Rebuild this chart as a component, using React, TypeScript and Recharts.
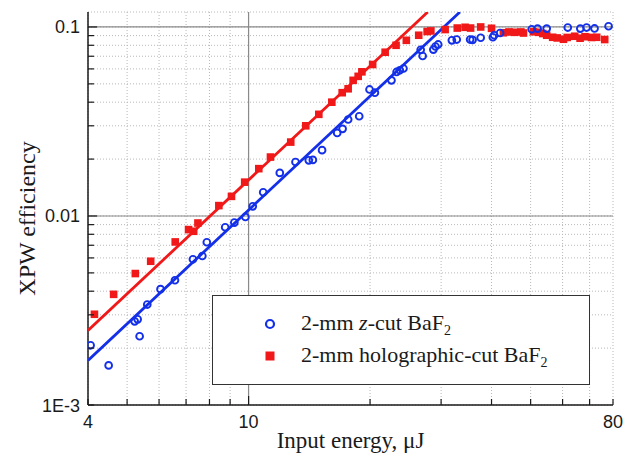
import {
  CartesianGrid,
  Legend,
  ReferenceLine,
  Scatter,
  ScatterChart,
  XAxis,
  YAxis,
} from "recharts";

// XPW efficiency vs input energy, log-log.
const zCutEnergy = [
  4.06, 4.5, 5.22, 5.31, 5.37, 5.61, 6.05, 6.57, 7.28, 7.68, 7.88, 8.75, 9.22,
  9.82, 10.24, 10.87, 11.95, 13.07, 14.1, 14.43, 15.21, 16.58, 17.1, 17.65,
  18.8, 19.94, 20.56, 22.6, 23.27, 23.7, 24.2, 26.7, 27.0, 28.7, 29.05, 29.5,
  31.9, 32.8, 35.4, 35.9, 37.6, 40.3, 40.6, 42.0, 50.3, 52.0, 54.8, 61.8, 66.4,
  68.8, 72.0, 78.0,
];
const zCutEff = [
  0.00207, 0.00162, 0.00277, 0.00284, 0.00231, 0.0034, 0.0041, 0.00457, 0.0059,
  0.00614, 0.00726, 0.00872, 0.00923, 0.00988, 0.01125, 0.01335, 0.0169,
  0.0193, 0.0197, 0.0198, 0.0223, 0.0275, 0.0289, 0.0324, 0.0337, 0.0467,
  0.0449, 0.0522, 0.0578, 0.059, 0.0603, 0.0757, 0.0702, 0.0759, 0.0788,
  0.0808, 0.085, 0.0858, 0.0858, 0.0855, 0.0877, 0.0882, 0.0904, 0.0929,
  0.0972, 0.098, 0.098, 0.0993, 0.098, 0.0993, 0.0982, 0.1009,
];

const holoEnergy = [
  4.15, 4.63, 5.24, 5.72, 6.58, 7.1, 7.31, 7.49, 8.44, 9.07, 9.78, 10.6, 11.33,
  12.72, 13.86, 14.93, 16.08, 17.06, 17.65, 18.16, 18.69, 19.09, 20.3, 21.8,
  23.2, 24.6, 26.4, 27.7, 28.3, 30.7, 32.9, 34.4, 35.5, 37.6, 40.0, 42.8, 44.2,
  45.6, 47.3, 48.0, 50.8, 52.3, 53.6, 54.8, 56.7, 58.2, 60.3, 61.6, 64.3, 66.3,
  68.2, 70.8, 72.9, 76.3,
];
const holoEff = [
  0.00302, 0.00385, 0.00496, 0.00576, 0.00729, 0.00847, 0.0083, 0.00918,
  0.01135, 0.0127, 0.0151, 0.0178, 0.0205, 0.0246, 0.03, 0.0345, 0.04, 0.0449,
  0.0471, 0.0522, 0.0548, 0.0579, 0.0633, 0.0735, 0.08, 0.085, 0.0904, 0.0946,
  0.0953, 0.0969, 0.0987, 0.0996, 0.0987, 0.1, 0.0984, 0.0932, 0.0941, 0.0937,
  0.0941, 0.0929, 0.0943, 0.0937, 0.0923, 0.0904, 0.0882, 0.0875, 0.0861,
  0.088, 0.0893, 0.0872, 0.0888, 0.088, 0.0882, 0.0858,
];

// quadratic fits (straight on log-log), endpoints read where they leave the frame
const zFitEnergy = [4, 33.4];
const zFitEff = [0.00172, 0.12];
const holoFitEnergy = [4, 27.8];
const holoFitEff = [0.00248, 0.12];

const xTicks = [4, 5, 6, 7, 8, 9, 10, 20, 30, 40, 50, 60, 70, 80];
const yTicks = [
  0.001, 0.002, 0.003, 0.004, 0.005, 0.006, 0.007, 0.008, 0.009, 0.01, 0.02,
  0.03, 0.04, 0.05, 0.06, 0.07, 0.08, 0.09, 0.1,
];
const xLabelTicks = [4, 10, 80];
const xLabelText = ["4", "10", "80"];
const yLabelTicks = [0.001, 0.01, 0.1];
const yLabelText = ["1E-3", "0.01", "0.1"];
const xMajor = [10];
const yMajor = [0.01, 0.1];

const BLUE = "#1330e8";
const RED = "#f01818";
const INK = "#1a1a1a";
const SANS = "'Liberation Sans', Arial, sans-serif";
const SERIF = "'Liberation Serif', 'Times New Roman', serif";

const toPoints = (xs: number[], ys: number[]) =>
  xs.map((x, i) => ({ x, y: ys[i] }));

type Side = "bottom" | "top" | "left" | "right";

// ticks point into the frame on all four sides, labels only on bottom/left
function makeTick(side: Side) {
  return (props: any) => {
    const { x, y, payload } = props;
    const v = payload.value;
    const horiz = side === "bottom" || side === "top";
    const len = (horiz ? xMajor : yMajor).includes(v) ? 9 : 6;
    let x2 = x;
    let y2 = y;
    if (side === "bottom") y2 = y - len;
    if (side === "top") y2 = y + len;
    if (side === "left") x2 = x + len;
    if (side === "right") x2 = x - len;

    let label = null;
    if (side === "bottom") {
      const i = xLabelTicks.indexOf(v);
      if (i >= 0)
        label = (
          <text x={x} y={y + 23} textAnchor="middle" fontFamily={SANS} fontSize={18} fill={INK}>
            {xLabelText[i]}
          </text>
        );
    }
    if (side === "left") {
      const i = yLabelTicks.indexOf(v);
      if (i >= 0)
        label = (
          <text x={x - 8} y={y + 6.5} textAnchor="end" fontFamily={SANS} fontSize={18} fill={INK}>
            {yLabelText[i]}
          </text>
        );
    }
    return (
      <g>
        <line x1={x} y1={y} x2={x2} y2={y2} stroke={INK} strokeWidth={1.2} />
        {label}
      </g>
    );
  };
}

const Circle = (p: any) => (
  <circle cx={p.cx} cy={p.cy} r={3.4} fill="none" stroke={BLUE} strokeWidth={1.9} />
);
const Square = (p: any) => (
  <rect x={p.cx - 3.8} y={p.cy - 3.8} width={7.6} height={7.6} fill={RED} />
);
const NoDot = () => <g />;

function LegendBox() {
  const row = (top: number, symbol: any, text: string) => (
    <div style={{ position: "absolute", left: 0, top, height: 32, width: "100%" }}>
      <svg width={20} height={20} style={{ position: "absolute", left: 47, top: 6 }}>
        {symbol}
      </svg>
      <div style={{ position: "absolute", left: 88, top: 2, whiteSpace: "nowrap", lineHeight: "26px" }}>
        {text}
      </div>
    </div>
  );
  return (
    <div
      style={{
        position: "relative",
        width: 378,
        height: 90,
        boxSizing: "border-box",
        border: "1.5px solid #333",
        background: "#fff",
        fontFamily: SERIF,
        fontSize: 22,
        color: INK,
      }}
    >
      <div style={{ position: "absolute", left: 0, top: 12, width: "100%", height: 32 }}>
        <svg width={20} height={20} style={{ position: "absolute", left: 47, top: 6 }}>
          <circle cx={10} cy={10} r={4} fill="none" stroke={BLUE} strokeWidth={2.2} />
        </svg>
        <div style={{ position: "absolute", left: 88, top: 2, whiteSpace: "nowrap", lineHeight: "26px" }}>
          2-mm <i>z</i>-cut BaF<sub style={{ fontSize: 14 }}>2</sub>
        </div>
      </div>
      {row(
        44,
        <rect x={5.5} y={5.5} width={9} height={9} fill={RED} />,
        ""
      )}
      <div style={{ position: "absolute", left: 88, top: 46, whiteSpace: "nowrap", lineHeight: "26px" }}>
        2-mm holographic-cut BaF<sub style={{ fontSize: 14 }}>2</sub>
      </div>
    </div>
  );
}

export default function App() {
  return (
    <div style={{ position: "absolute", left: 0, top: 0, background: "#fff" }}>
      <ScatterChart width={636} height={455} margin={{ top: 12, right: 23, bottom: 0, left: 0 }}>
        <CartesianGrid stroke="#b8b8b8" strokeDasharray="1 2" />
        <XAxis
          type="number"
          dataKey="x"
          scale="log"
          domain={[4, 80]}
          allowDataOverflow
          ticks={xTicks}
          interval={0}
          height={50}
          tickSize={0}
          tickMargin={0}
          tickLine={false}
          axisLine={{ stroke: INK, strokeWidth: 1.5 }}
          tick={makeTick("bottom")}
          label={{
            content: ({ viewBox }: any) => (
              <text
                x={viewBox.x + viewBox.width / 2}
                y={viewBox.y + 43}
                textAnchor="middle"
                fontFamily={SERIF}
                fontSize={23}
                fill={INK}
              >
                Input energy, μJ
              </text>
            ),
          }}
        />
        <XAxis
          xAxisId="top"
          orientation="top"
          type="number"
          dataKey="x"
          scale="log"
          domain={[4, 80]}
          allowDataOverflow
          ticks={xTicks}
          interval={0}
          height={0}
          tickSize={0}
          tickMargin={0}
          tickLine={false}
          axisLine={{ stroke: INK, strokeWidth: 1.5 }}
          tick={makeTick("top")}
        />
        <YAxis
          type="number"
          dataKey="y"
          scale="log"
          domain={[0.001, 0.12]}
          allowDataOverflow
          ticks={yTicks}
          interval={0}
          width={88}
          tickSize={0}
          tickMargin={0}
          tickLine={false}
          axisLine={{ stroke: INK, strokeWidth: 1.5 }}
          tick={makeTick("left")}
          label={{
            content: ({ viewBox }: any) => (
              <text
                transform={`translate(${viewBox.x + 27}, ${viewBox.y + viewBox.height / 2 + 10}) rotate(-90)`}
                textAnchor="middle"
                dominantBaseline="central"
                fontFamily={SERIF}
                fontSize={24}
                fill={INK}
              >
                XPW efficiency
              </text>
            ),
          }}
        />
        <YAxis
          yAxisId="right"
          orientation="right"
          type="number"
          dataKey="y"
          scale="log"
          domain={[0.001, 0.12]}
          allowDataOverflow
          ticks={yTicks}
          interval={0}
          width={0}
          tickSize={0}
          tickMargin={0}
          tickLine={false}
          axisLine={{ stroke: INK, strokeWidth: 1.5 }}
          tick={makeTick("right")}
        />
        <ReferenceLine x={10} stroke="#8a8a8a" strokeWidth={1.2} />
        <ReferenceLine y={0.01} stroke="#8a8a8a" strokeWidth={1.2} />
        <ReferenceLine y={0.1} stroke="#8a8a8a" strokeWidth={1.2} />
        <Scatter
          data={toPoints(holoFitEnergy, holoFitEff)}
          line={{ stroke: RED, strokeWidth: 2.8 }}
          shape={NoDot}
          legendType="none"
          isAnimationActive={false}
        />
        <Scatter
          data={toPoints(zFitEnergy, zFitEff)}
          line={{ stroke: BLUE, strokeWidth: 2.8 }}
          shape={NoDot}
          legendType="none"
          isAnimationActive={false}
        />
        <Scatter data={toPoints(holoEnergy, holoEff)} shape={Square} isAnimationActive={false} />
        <Scatter data={toPoints(zCutEnergy, zCutEff)} shape={Circle} isAnimationActive={false} />
        <Legend
          layout="vertical"
          align="center"
          verticalAlign="middle"
          wrapperStyle={{ left: 212, top: 295, width: 378, height: 90 }}
          content={() => <LegendBox />}
        />
      </ScatterChart>
    </div>
  );
}
